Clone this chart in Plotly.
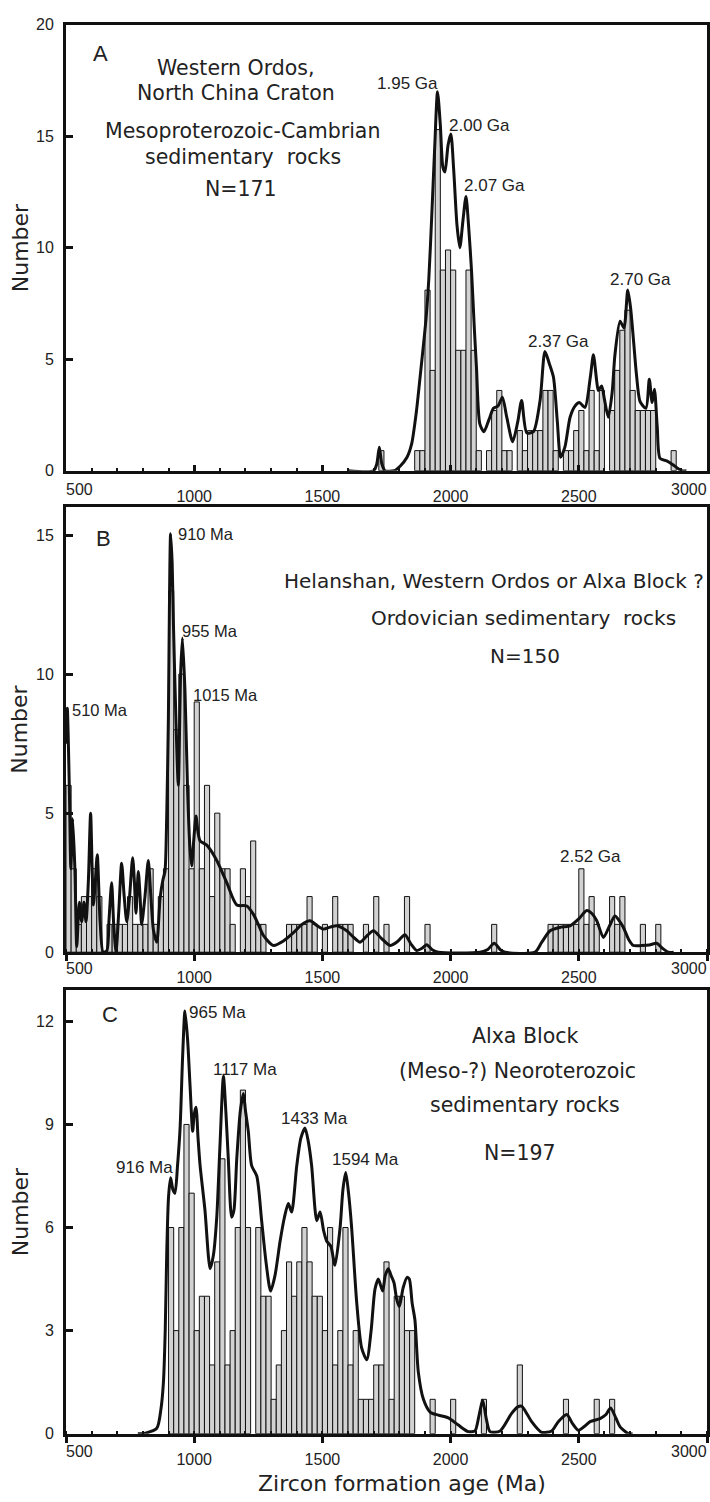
import plotly.graph_objects as go

# ---------------- DATA ----------------
# Panel A: histogram bins (left edge, Ma) and bar heights as read on the axis
a_bin_start = [1720, 1860, 1880, 1900, 1920, 1940, 1960, 1980, 2000, 2020, 2040, 2060, 2080, 2100,
               2140, 2160, 2180, 2200, 2220, 2260, 2280, 2300, 2320, 2340, 2360, 2380, 2400,
               2440, 2460, 2480, 2500, 2520, 2540, 2560, 2580, 2620, 2640, 2660, 2680, 2700,
               2720, 2740, 2760, 2780, 2860]
a_bar_val = [0.9, 0.9, 0.9, 8.1, 4.5, 15.3, 9.0, 9.9, 9.0, 5.4, 5.4, 9.0, 5.4, 0.9,
             0.9, 2.7, 3.6, 0.9, 0.9, 1.8, 0.9, 1.8, 1.8, 1.8, 3.6, 3.6, 0.9,
             0.9, 0.9, 1.8, 2.7, 0.9, 3.6, 0.9, 3.6, 2.7, 4.5, 6.3, 7.2, 3.6,
             2.7, 2.7, 2.7, 2.7, 0.9]
a_curve_age = [1600, 1700, 1712, 1722, 1732, 1744, 1780, 1803, 1830, 1848, 1866, 1881, 1904, 1915, 1926,
               1938, 1949, 1960, 1970, 1978, 1990, 2001, 2012, 2025, 2036, 2048, 2060, 2070, 2082,
               2092, 2101, 2114, 2130, 2150, 2167, 2185, 2202, 2219, 2242, 2262, 2277, 2297, 2323,
               2349, 2368, 2385, 2401, 2416, 2429, 2446, 2466, 2485, 2502, 2524, 2545, 2557, 2570,
               2576, 2589, 2600, 2615, 2630, 2641, 2661, 2676, 2691, 2702, 2713, 2725, 2739, 2762,
               2775, 2786, 2795, 2806, 2817, 2843, 2869, 2901, 2920]
a_curve_val = [0, 0, 0.3, 1.05, 0.3, 0, 0, 0.2, 0.6, 1.2, 2.6, 4.2, 6.8, 8.6, 11.3,
               14.5, 17.0, 15.5, 13.6, 13.4, 14.6, 15.1, 13.5, 11.0, 10.0, 11.2, 12.3, 11.0, 8.9,
               6.5, 4.6, 2.1, 1.75, 2.3, 2.8, 2.9, 3.3, 2.4, 1.3, 2.2, 3.15, 1.7, 1.75,
               3.15, 5.35, 4.8, 4.2, 2.25, 0.6, 1.07, 2.4, 2.9, 3.06, 2.84, 4.2, 5.2, 4.0,
               3.6, 3.8, 3.2, 2.4, 3.5, 5.2, 6.7, 6.4, 8.1, 7.3, 5.9, 4.3, 3.1, 2.8,
               4.1, 3.06, 3.65, 1.95, 0.55, 0.44, 0.25, 0, 0]

# Panel B
b_bin_start = [500, 520, 540, 560, 580, 600, 620, 660, 680, 700, 720, 740, 760, 780, 800, 820, 840, 860, 880,
               900, 920, 940, 960, 980, 1000, 1020, 1040, 1060, 1080, 1100, 1120, 1140, 1180, 1200, 1220,
               1240, 1260, 1360, 1380, 1400, 1420, 1440, 1460, 1500, 1540, 1560, 1580, 1600, 1660, 1700,
               1740, 1820, 1900, 2160, 2380, 2400, 2420, 2440, 2460, 2480, 2500, 2520, 2540, 2560, 2620,
               2640, 2660, 2740, 2800]
b_bar_val = [6, 3, 1, 2, 2, 3, 2, 1, 1, 1, 1, 2, 1, 1, 1, 3, 1, 2, 3,
             13, 8, 10, 6, 3, 9, 3, 6, 2, 5, 3, 3, 1, 3, 2, 4,
             1, 1, 1, 1, 1, 1, 2, 1, 1, 2, 1, 1, 1, 1, 2,
             1, 2, 1, 1, 1, 1, 1, 1, 1, 1, 3, 1, 2, 1, 2,
             1, 2, 1, 1]
b_curve_age = [500, 505, 513, 519, 526, 535, 542, 552, 561, 570, 578, 587, 596, 602, 607, 614, 622, 633,
               645, 659, 668, 678, 686, 695, 706, 717, 727, 737, 748, 760, 767, 773, 782, 789, 795, 808,
               821, 831, 841, 854, 867, 878, 886, 893, 899, 908, 914, 919, 928, 938, 947, 954, 964,
               974, 983, 990, 998, 1007, 1015, 1023, 1049, 1088, 1127, 1166, 1205, 1231, 1250, 1270,
               1309, 1348, 1387, 1420, 1452, 1480, 1504, 1530, 1556, 1595, 1620, 1647, 1675, 1699,
               1730, 1764, 1795, 1822, 1845, 1868, 1890, 1907, 1930, 1952, 2115, 2145, 2170, 2195,
               2212, 2329, 2355, 2388, 2430, 2466, 2500, 2531, 2550, 2570, 2596, 2620, 2641, 2660,
               2674, 2695, 2713, 2745, 2775, 2804, 2825, 2849, 2870]
b_curve_val = [7.5, 8.77, 5.9, 3.0, 4.8, 2.9, 0.2, 1.8, 1.1, 1.8, 1.1, 2.5, 5.0, 3.0, 1.7, 2.5, 3.5, 1.1,
               0, 0.05, 1.2, 2.5, 1.0, 0, 1.5, 3.2, 2.0, 1.1, 2.0, 3.4, 2.5, 1.4, 2.9, 2.0, 1.0, 2.0,
               3.3, 2.0, 0.8, 0.36, 1.95, 2.6, 2.9, 5.0, 8.2, 15.05, 14.0, 11.8, 8.6, 6.0, 10.0, 11.3, 9.4,
               5.9, 3.8, 3.1, 4.0, 4.9, 4.3, 4.0, 3.85, 3.3, 2.5, 1.7, 1.66, 1.36, 1.0, 0.6,
               0.24, 0.4, 0.7, 1.0, 1.13, 0.95, 0.83, 0.9, 0.95, 0.77, 0.55, 0.36, 0.6, 0.77,
               0.5, 0.24, 0.4, 0.63, 0.3, 0.06, 0.15, 0.27, 0.08, 0, 0, 0.1, 0.32, 0.08,
               0, 0, 0.35, 0.77, 0.9, 0.95, 1.2, 1.5, 1.4, 1.13, 0.53, 0.95, 1.3, 1.1,
               0.89, 0.45, 0.24, 0.24, 0.26, 0.32, 0.15, 0, 0]

# Panel C
c_bin_start = [900, 920, 940, 960, 980, 1000, 1020, 1040, 1060, 1080, 1100, 1120, 1140, 1160, 1180, 1200,
               1240, 1260, 1280, 1300, 1320, 1340, 1360, 1380, 1400, 1420, 1440, 1460, 1480, 1500, 1520,
               1540, 1560, 1580, 1600, 1620, 1640, 1660, 1680, 1700, 1720, 1740, 1760, 1780, 1800, 1820,
               1840, 1920, 2000, 2120, 2260, 2440, 2560, 2620]
c_bar_val = [6, 3, 6, 9, 7, 3, 4, 4, 2, 5, 8, 2, 3, 6, 10, 6,
             6, 4, 4, 1, 2, 3, 5, 4, 5, 6, 5, 4, 4, 3, 6,
             2, 3, 6, 2, 3, 1, 1, 1, 2, 2, 5, 1, 4, 4, 3,
             3, 1, 1, 1, 2, 1, 1, 1]
c_curve_age = [780, 801, 854, 870, 880, 887, 893, 900, 908, 917, 925, 935, 945, 955, 964, 974, 984, 994,
               1000, 1007, 1015, 1023, 1042, 1062, 1075, 1088, 1100, 1114, 1124, 1133, 1146, 1155, 1166,
               1180, 1192, 1200, 1211, 1224, 1244, 1263, 1280, 1298, 1315, 1335, 1352, 1367, 1380, 1400,
               1416, 1432, 1445, 1458, 1478, 1491, 1505, 1517, 1533, 1549, 1569, 1580, 1591, 1602, 1614,
               1634, 1653, 1673, 1690, 1705, 1718, 1735, 1745, 1757, 1768, 1779, 1790, 1800, 1815, 1830,
               1839, 1850, 1861, 1874, 1894, 1920, 1952, 1991, 2030, 2069, 2095, 2110, 2125, 2140, 2154,
               2193, 2238, 2262, 2277, 2300, 2316, 2355, 2394, 2420, 2453, 2475, 2498, 2520, 2544, 2583,
               2605, 2624, 2645, 2661, 2693, 2710]
c_curve_val = [0, 0, 0.16, 0.7, 1.5, 3.0, 5.3, 6.9, 7.45, 7.1, 7.0, 7.8, 8.9, 11.0, 12.3, 11.5, 10.1, 8.8,
               9.3, 9.5, 8.6, 7.8, 6.5, 4.8, 5.2, 6.3, 8.3, 10.4, 9.3, 8.0, 6.3, 6.5, 8.0,
               9.4, 9.9, 9.4, 8.8, 7.8, 7.5, 6.2, 5.0, 4.15, 4.6, 5.6, 6.3, 6.7, 6.45, 7.8,
               8.6, 8.9, 8.5, 7.8, 6.2, 6.45, 5.9, 5.6, 5.45, 4.9, 6.0, 7.1, 7.6, 7.0, 6.0,
               3.8, 2.5, 2.15, 3.0, 4.2, 4.5, 4.15, 4.6, 4.8, 4.6, 4.4, 3.9, 3.7, 4.25, 4.55,
               4.5, 3.8, 3.3, 1.8, 1.0, 0.63, 0.54, 0.46, 0.25, 0.06, 0.08, 0.5, 0.97, 0.4, 0.06,
               0.08, 0.59, 0.78, 0.8, 0.55, 0.35, 0.04, 0.08, 0.35, 0.56, 0.3, 0.1, 0.2, 0.35, 0.44,
               0.55, 0.75, 0.45, 0.2, 0, 0]

x_ticks = [500, 1000, 1500, 2000, 2500, 3000]
x_tick_text = ["", "1000", "1500", "2000", "2500", ""]   # 500 / 3000 drawn at frame edges
a_yticks = [0, 5, 10, 15, 20]
b_yticks = [0, 5, 10, 15]
c_yticks = [0, 3, 6, 9, 12]

bin_width = 20

# ---------------- FIGURE ----------------
W, H = 710, 1502
fig = go.Figure()

def px(x):
    return x / W

def py(y):
    return 1 - y / H

panels = [
    # (axis suffix, bins, vals, curve x, curve y, y range, yticks, top/bottom px, tick dir, label standoff, label y)
    ("", a_bin_start, a_bar_val, a_curve_age, a_curve_val, [0, 20], a_yticks, (17, 468), "inside", 9, 487),
    ("2", b_bin_start, b_bar_val, b_curve_age, b_curve_val, [0, 16], b_yticks, (505, 955), "outside", 3, 972),
    ("3", c_bin_start, c_bar_val, c_curve_age, c_curve_val, [0, 12.92], c_yticks, (993, 1442), "outside", 3, 1460),
]

BAR_FILL = "#d2d2d2"
LS = "Liberation Sans, Arial, sans-serif"
DJ = "DejaVu Sans, sans-serif"
tickfont = dict(family=LS, size=16, color="#222")

ann = []

def text(x, y, s, size=17, family=LS, xanchor="center", angle=0):
    ann.append(dict(x=px(x), y=py(y), xref="paper", yref="paper", text=s, showarrow=False,
                    xanchor=xanchor, yanchor="middle", textangle=angle,
                    font=dict(family=family, size=size, color="#222")))

for suf, bins, vals, cx, cy, yr, yt, (top, bot), tdir, stand, laby in panels:
    xa = "x" + suf
    ya = "y" + suf
    fig.add_trace(go.Bar(
        x=[b + bin_width / 2 for b in bins], y=vals, width=bin_width,
        marker=dict(color=BAR_FILL, line=dict(color="#111", width=1)),
        xaxis=xa, yaxis=ya, showlegend=False, hoverinfo="skip"))
    fig.add_trace(go.Scatter(
        x=cx, y=cy, mode="lines",
        line=dict(color="#111", width=3, shape="spline", smoothing=0.7),
        xaxis=xa, yaxis=ya, showlegend=False, hoverinfo="skip"))
    fig.layout["xaxis" + suf] = dict(
        domain=[px(66), px(707)], range=[500, 3000], anchor=ya,
        tickmode="array", tickvals=x_ticks, ticktext=x_tick_text,
        ticks=tdir, ticklen=6, tickwidth=3, tickcolor="#111",
        minor=dict(dtick=100, tick0=500, ticks="inside", ticklen=3, tickwidth=2, tickcolor="#111"),
        showline=True, linewidth=3, linecolor="#111", mirror=True,
        showgrid=False, zeroline=False, tickfont=tickfont, ticklabelstandoff=stand,
        fixedrange=True)
    fig.layout["yaxis" + suf] = dict(
        domain=[py(bot), py(top)], range=yr, anchor=xa,
        tickmode="array", tickvals=yt, ticktext=[str(t) for t in yt],
        ticks="inside", ticklen=7, tickwidth=3, tickcolor="#111",
        showline=True, linewidth=3, linecolor="#111", mirror=True,
        showgrid=False, zeroline=False, tickfont=tickfont, ticklabelstandoff=6,
        fixedrange=True)
    # edge tick labels kept inside the page
    text(64, laby, "500", size=16, xanchor="left")
    text(709, laby, "3000", size=16, xanchor="right")

# Y titles
for yc in (243, 730, 1218):
    text(20, yc, "Number", size=22, family=DJ, angle=-90)
# X title
text(402, 1492, "Zircon formation age (Ma)", size=22, family=DJ)

# Panel letters
text(100, 46, "A", size=22)
text(103, 537, "B", size=22)
text(110, 1018, "C", size=22)

# Panel A description
text(236, 61, "Western Ordos,", size=20.5, family=DJ)
text(236, 86, "North China Craton", size=20.5, family=DJ)
text(242, 124, "Mesoproterozoic-Cambrian", size=20.5, family=DJ)
text(243, 151, "sedimentary  rocks", size=20.5, family=DJ)
text(241, 183, "N=171", size=20.5, family=DJ)

# Panel A peaks
text(407, 76, "1.95 Ga")
text(479, 119, "2.00 Ga")
text(494, 180, "2.07 Ga")
text(558, 337, "2.37 Ga")
text(640, 275, "2.70 Ga")

# Panel B description
text(494, 580, "Helanshan, Western Ordos or Alxa Block ?", size=20, family=DJ)
text(523, 617, "Ordovician sedimentary  rocks", size=20, family=DJ)
text(525, 655, "N=150", size=20, family=DJ)

# Panel B peaks
text(206, 532, "910 Ma", size=16.5)
text(210, 630, "955 Ma", size=16.5)
text(225, 695, "1015 Ma", size=16.5)
text(100, 710, "510 Ma", size=16.5)
text(590, 858, "2.52 Ga", size=17)

# Panel C description
text(525, 1040, "Alxa Block", size=20.5, family=DJ)
text(517, 1075, "(Meso-?) Neoroterozoic", size=20.5, family=DJ)
text(525, 1110, "sedimentary rocks", size=20.5, family=DJ)
text(520, 1158, "N=197", size=20.5, family=DJ)

# Panel C peaks
text(144, 1173, "916 Ma", size=17)
text(218, 1016, "965 Ma", size=17)
text(245, 1074, "1117 Ma", size=17)
text(314, 1123, "1433 Ma", size=17)
text(365, 1165, "1594 Ma", size=17)

fig.update_layout(
    width=W, height=H, margin=dict(l=0, r=0, t=0, b=0),
    paper_bgcolor="white", plot_bgcolor="white",
    bargap=0, barmode="overlay", annotations=ann,
    font=dict(family=LS, color="#222"),
)

fig.write_html(
    "out.html",
    config={"displayModeBar": False, "staticPlot": True},
    post_script="document.body.style.margin='0';document.body.style.overflow='hidden';",
)
